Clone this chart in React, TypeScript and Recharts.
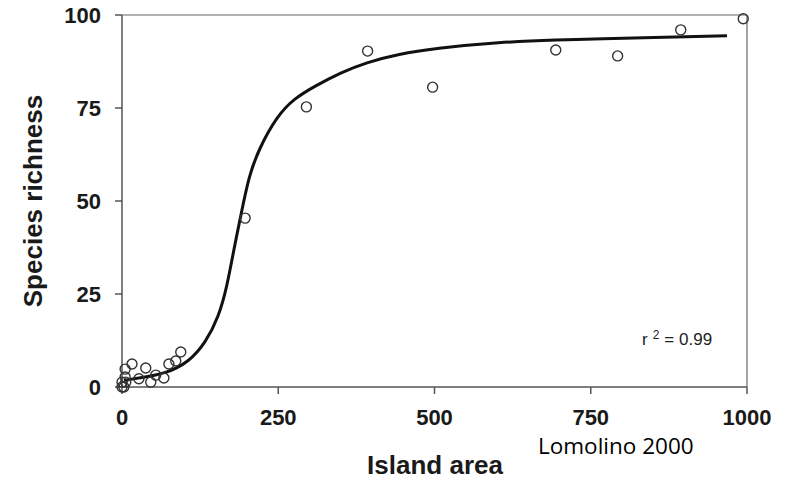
import { ComposedChart, Scatter, Line, XAxis, YAxis, ReferenceLine } from "recharts"

// observed islands (area, species)
const areaX = [0, 0, 3, 5, 6, 5, 16, 27, 38, 46, 54, 67, 75, 86, 94, 197, 295, 393, 497, 694, 793, 894, 994]
const richnessY = [0, 1.3, 0, 2.7, 1.3, 4.8, 6.2, 2.2, 5.1, 1.3, 3.2, 2.4, 6.2, 7, 9.4, 45.4, 75.3, 90.3, 80.6, 90.6, 89, 96, 99]

// fitted curve
const fitX = [3, 30, 70, 107, 134, 155, 168, 179, 190, 203, 219, 248, 275, 310, 350, 390, 443, 500, 603, 700, 763, 870, 968]
const fitY = [1.8, 2.5, 3.6, 6.7, 12, 19, 27, 37, 46, 56.7, 64, 72.8, 77.5, 81, 84.5, 87.2, 89.5, 91, 92.7, 93.3, 93.6, 94, 94.4]

const xTicks = [0, 250, 500, 750, 1000]
const yTicks = [0, 25, 50, 75, 100]

const points = areaX.map((x, i) => ({ x, y: richnessY[i] }))
const fit = fitX.map((x, i) => ({ x, y: fitY[i] }))

const tickStyle = { fontFamily: "Liberation Sans, Arial, sans-serif", fontWeight: 700, fontSize: 22, fill: "#1a1a1a" }
const labelStyle = { fontFamily: "Liberation Sans, Arial, sans-serif", fontWeight: 700, fontSize: 26, fill: "#1a1a1a" }

const OpenCircle = (props: any) => {
  const { cx, cy } = props
  return <circle cx={cx} cy={cy} r={5} fill="none" stroke="#333" strokeWidth={1.4} />
}

export default function App() {
  return (
    <div style={{ position: "absolute", left: 0, top: 0, width: 787, height: 479, background: "#fff" }}>
      <ComposedChart width={787} height={479} margin={{ top: 15, right: 40, bottom: 32, left: 0 }}>
        <XAxis
          type="number"
          dataKey="x"
          domain={[0, 1000]}
          ticks={xTicks}
          tick={tickStyle}
          tickSize={7}
          tickMargin={15}
          height={60}
          stroke="#555"
          strokeWidth={1.5}
        />
        <YAxis
          type="number"
          dataKey="y"
          domain={[0, 100]}
          ticks={yTicks}
          tick={tickStyle}
          tickSize={7}
          tickMargin={14}
          width={122}
          stroke="#555"
          strokeWidth={1.5}
        />
        <ReferenceLine y={100} stroke="#666" strokeWidth={1.2} />
        <ReferenceLine x={1000} stroke="#666" strokeWidth={1.2} />
        <Line
          data={fit}
          dataKey="y"
          type="basis"
          stroke="#111"
          strokeWidth={3}
          dot={false}
          activeDot={false}
          isAnimationActive={false}
        />
        <Scatter data={points} dataKey="y" shape={<OpenCircle />} isAnimationActive={false} />
      </ComposedChart>
      <svg width={787} height={479} style={{ position: "absolute", left: 0, top: 0, pointerEvents: "none" }}>
        <text x={435} y={474} textAnchor="middle" style={labelStyle}>
          Island area
        </text>
        <text transform="translate(42,201) rotate(-90)" textAnchor="middle" style={labelStyle}>
          Species richness
        </text>
        <text x={642} y={345} style={{ fontFamily: "Liberation Sans, Arial, sans-serif", fontSize: 17, fill: "#222" }}>
          r
          <tspan dx={5} dy={-6} fontSize={12}>2</tspan>
          <tspan dx={5} dy={6}>= 0.99</tspan>
        </text>
        <text x={538} y={454} style={{ fontFamily: "Open Sans, Noto Sans, sans-serif", fontSize: 22.5, fill: "#000" }}>
          Lomolino 2000
        </text>
      </svg>
    </div>
  )
}
